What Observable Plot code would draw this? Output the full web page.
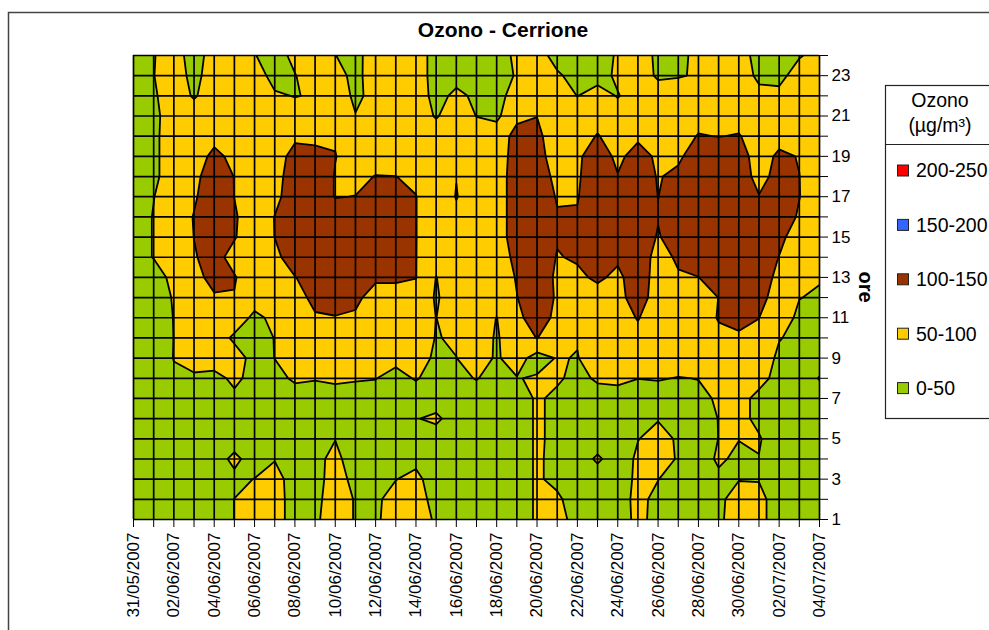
<!DOCTYPE html>
<html><head><meta charset="utf-8">
<script src="https://cdn.jsdelivr.net/npm/d3@7"></script>
<script src="https://cdn.jsdelivr.net/npm/@observablehq/plot@0.6"></script>
<style>
html,body{margin:0;padding:0;background:#fff;}
#wrap{position:relative;width:989px;height:630px;overflow:hidden;font-family:"Liberation Sans",Arial,sans-serif;}
#wrap > svg{position:absolute;left:0;top:0;}
</style></head><body><div id="wrap"></div>
<script>
// ---- DATA ----
const titleText = "Ozono - Cerrione";
const yTitle = "ore";
const legendTitle = ["Ozono", "(µg/m³)"];
const days = ["31/05/2007","01/06/2007","02/06/2007","03/06/2007","04/06/2007","05/06/2007","06/06/2007","07/06/2007","08/06/2007","09/06/2007","10/06/2007","11/06/2007","12/06/2007","13/06/2007","14/06/2007","15/06/2007","16/06/2007","17/06/2007","18/06/2007","19/06/2007","20/06/2007","21/06/2007","22/06/2007","23/06/2007","24/06/2007","25/06/2007","26/06/2007","27/06/2007","28/06/2007","29/06/2007","30/06/2007","01/07/2007","02/07/2007","03/07/2007","04/07/2007"];
const hours = [1,2,3,4,5,6,7,8,9,10,11,12,13,14,15,16,17,18,19,20,21,22,23,24];
const thresholds = [0, 50, 100, 150, 200];
const bandLabels = ["0-50", "50-100", "100-150", "150-200", "200-250"];
const bandColors = ["#99cc00", "#ffcc00", "#993300", "#3366ff", "#ff0000"];

// ozone (µg/m³) per hour, one value per day (31/05 ... 04/07)
const h24 = [30,48,70,30,70,75,52,30,62,75,51,30,85,75,76,30,30,30,30,59,75,28,30,30,55,75,40,30,70,75,75,30,30,44,75];
const h23 = [30,49,75,35,75,75,78,30,48,75,74,32,83,75,76,30,35,30,30,54,75,58,30,30,59,75,43,47,54,75,90,35,28,85,75];
const h22 = [30,44,75,45,75,75,75,57,48,55,80,40,65,75,75,35,60,42,30,75,75,75,49,72,47,75,75,75,75,75,75,70,70,75,75];
const h21 = [30,38,75,75,75,75,75,75,75,75,75,52,75,75,75,46,75,49,40,90,99.5,75,75,88,75,75,75,75,88,85,88,75,75,75,75];
const h20 = [30,40,75,75,88,75,75,75,92,90,97,75,75,75,75,75,75,75,75,115,108,80,85,102,85,92,80,85,102,99,102,85,85,75,75];
const h19 = [30,40,75,80,110,90,75,80,115,112,101,85,75,75,75,75,80,75,75,120,115,80,92,125,90,118,92,92,125,125,120,80,108,98,75];
const h18 = [30,40,75,88,125,99,75,82,125,125,98,85,102,100.5,92,75,99,75,75,125,120,90,95,125,102,125,97,110,125,125,125,85,115,100.5,75];
const h17 = [30,49,75,95,125,99.5,75,88,125,125,98,101,120,120,101,70,102,75,75,125,125,97,98,125,125,125,99.5,125,125,125,125,102,125,101,75];
const h16 = [30,52,75,102,125,105,75,101,125,125,125,125,125,125,101,70,90,75,75,125,125,103,103,125,125,125,102,125,125,125,125,125,125,95,75];
const h15 = [30,52,75,100.5,125,103,75,100.5,125,125,125,125,125,125,101,70,75,75,75,125,125,103,120,125,125,125,97,120,125,125,125,125,110,80,75];
const h14 = [30,52,75,97,115,85,75,88,125,125,125,125,125,125,101,62,75,75,75,112,125,98,104,120,106,125,85,106,115,125,125,125,99,75,75];
const h13 = [30,25,65,88,112,103,75,75,98.5,120,125,125,106,106,101,49,75,75,75,103,125,93,93,106,92,120,85,96,99.5,118,125,120,90,65,53];
const h12 = [30,30,53,75,96,98,70,75,85,110,118,108,85,85,85,45,75,75,75,99,125,95,75,85,90,115,85,75,80,100.5,125,120,72,51,45];
const h11 = [30,30,51,75,80,75,40,60,75,96,98,95,75,75,75,49.5,75,75,49,90,120,90,75,75,85,102,80,75,75,103,115,100.5,70,42,35];
const h10 = [30,30,50.5,75,75,42,35,51,75,75,75,75,75,75,75,48,55,75,45,80,101,75,53,75,75,90,75,75,75,90,92,90,52,40,30];
const h9  = [30,30,51,75,75,70,35,50.5,75,75,75,75,75,60,75,40,49.5,70,45,70,30,53,48,75,75,75,75,75,75,75,75,75,42,30,30];
const h8  = [30,30,45,40,35,60,35,40,55,52,56,53,51,38,53,35,40,52,35,48,55,55,40,55,58,50.5,53,48,51,75,75,60,40,30,52];
const h7  = [30,30,30,30,30,40,30,30,35,35,35,35,35,30,30,30,30,30,30,30,55,42,30,35,35,30,30,30,40,55,60,42,30,30,30];
const h6  = [30,30,30,30,30,30,30,30,30,30,30,30,30,30,48,58,30,30,30,30,55,42,30,30,30,45,48,45,40,50.5,60,42,30,30,30];
const h5  = [30,30,30,30,30,30,30,30,30,40,49,30,30,30,44,30,30,30,30,30,55,42,30,30,30,49,62,46,30,50.5,51,53,30,30,30];
const h4  = [30,30,30,30,30,60,30,48,30,40,60,30,30,30,40,30,30,30,30,30,55,40,30,56,30,56,65,47,30,56,42,49,30,30,30];
const h3  = [30,30,30,30,30,40,51,65,32,40,62,42,30,49,60,30,30,30,30,30,55,40,30,30,30,58,51,30,30,42,48,48,30,30,30];
const h2  = [30,30,30,30,30,50.5,62,68,32,42,65,48,43,65,65,38,30,30,30,30,55,57,30,30,30,62,38,30,30,40,70,62,30,30,30];
const h1  = [30,30,30,30,30,50.5,62,68,32,45,65,48,45,65,65,46,30,30,30,30,55,70,30,30,30,60,38,30,30,42,72,62,30,30,30];

// ---- BUILD ----
const rowsBottomUp = [h1,h2,h3,h4,h5,h6,h7,h8,h9,h10,h11,h12,h13,h14,h15,h16,h17,h18,h19,h20,h21,h22,h23,h24];
const values = rowsBottomUp.flat();
const W = days.length, H = hours.length;
const dayIdx = days.map((d, i) => i);
const FONT = "'Liberation Sans', Arial, sans-serif";

const bandMarks = thresholds.map((t, k) => Plot.contour(values, {
  width: W, height: H,
  x1: -0.5, x2: W - 0.5, y1: hours[0] - 0.5, y2: hours[H - 1] + 0.5,
  thresholds: [t],
  fill: bandColors[k], stroke: "#000", strokeWidth: 1.8, clip: true
}));

const chart = Plot.plot({
  width: 989, height: 630,
  marginLeft: 133, marginRight: 170, marginTop: 55, marginBottom: 111,
  style: {fontFamily: FONT, fontSize: "17px", color: "#000", background: "transparent", overflow: "visible"},
  x: {domain: [0, W - 1]},
  y: {domain: [hours[0], hours[H - 1]]},
  marks: [
    ...bandMarks,
    Plot.ruleX(dayIdx, {stroke: "#000", strokeWidth: 1.7}),
    Plot.ruleY(hours, {stroke: "#000", strokeWidth: 1.7}),
    Plot.axisX(dayIdx, {tickSize: 8, tickPadding: 5, tickRotate: -90, tickFormat: i => (i % 2 === 0 ? days[i] : ""), fontSize: 17, label: null, stroke: "#000"}),
    Plot.axisY(hours, {anchor: "right", tickSize: 8, tickPadding: 4, tickFormat: h => (h % 2 === 1 ? String(h) : ""), fontSize: 17, label: null, stroke: "#000"})
  ]
});
const wrap = document.getElementById("wrap");
wrap.appendChild(chart);

// ---- overlay: border, title, axis title, legend ----
const ov = d3.create("svg").attr("width", 989).attr("height", 630)
  .attr("font-family", FONT).style("pointer-events", "none");
ov.append("path").attr("d", "M8.5,640V12.5H1000").attr("fill", "none").attr("stroke", "#444").attr("stroke-width", 1.5);
ov.append("text").attr("x", 503).attr("y", 37).attr("text-anchor", "middle")
  .attr("font-weight", "bold").attr("font-size", 21).text(titleText);
ov.append("text").attr("transform", "translate(866,287) rotate(90)").attr("text-anchor", "middle")
  .attr("dy", "0.35em").attr("font-weight", "bold").attr("font-size", 20).text(yTitle);

const lg = ov.append("g");
lg.append("rect").attr("x", 885.5).attr("y", 85.5).attr("width", 200).attr("height", 333)
  .attr("fill", "#fff").attr("stroke", "#222").attr("stroke-width", 1.2);
lg.append("line").attr("x1", 885.5).attr("x2", 1000).attr("y1", 144.5).attr("y2", 144.5)
  .attr("stroke", "#222").attr("stroke-width", 1.2);
lg.append("text").attr("x", 940).attr("y", 107).attr("text-anchor", "middle").attr("font-size", 19.5).text(legendTitle[0]);
lg.append("text").attr("x", 940).attr("y", 132).attr("text-anchor", "middle").attr("font-size", 19.5).text(legendTitle[1]);
const order = bandLabels.map((d, i) => i).reverse();
order.forEach((k, j) => {
  const cy = 170.5 + j * 54.4;
  lg.append("rect").attr("x", 897.5).attr("y", cy - 5.5).attr("width", 11).attr("height", 11)
    .attr("fill", bandColors[k]).attr("stroke", "#222").attr("stroke-width", 1);
  lg.append("text").attr("x", 916).attr("y", cy).attr("dy", "0.35em").attr("font-size", 19.5).text(bandLabels[k]);
});
wrap.appendChild(ov.node());
</script>
</body></html>
